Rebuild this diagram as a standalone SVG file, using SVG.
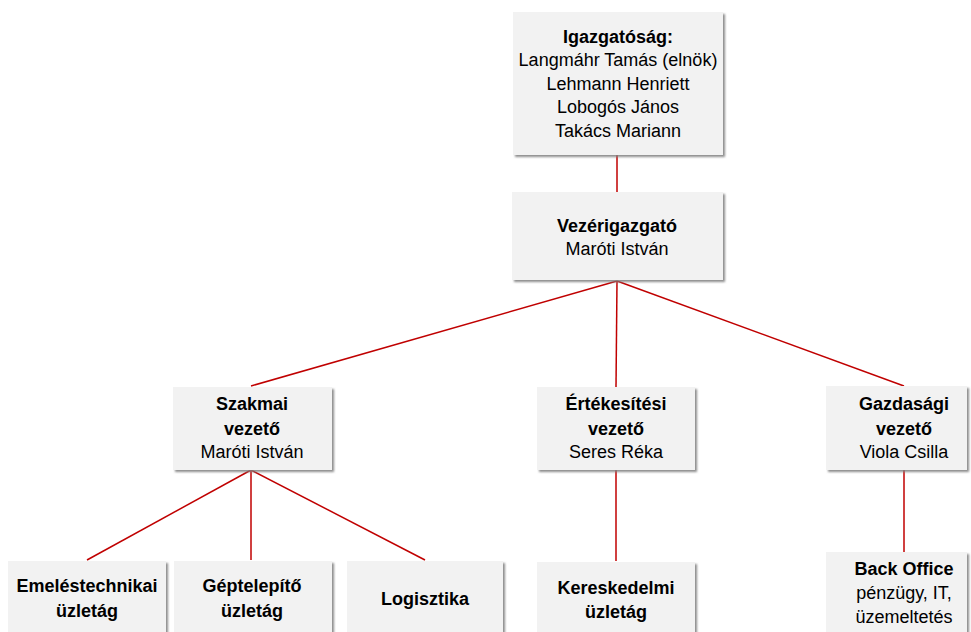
<svg xmlns="http://www.w3.org/2000/svg" width="971" height="632" viewBox="0 0 971 632">
<defs>
<filter id="sh" x="-5%" y="-5%" width="115%" height="115%">
<feDropShadow dx="2" dy="2" stdDeviation="0.8" flood-color="#808080" flood-opacity="0.9"/>
</filter>
<style>
.box{fill:#f2f2f2;filter:url(#sh);}
.t{font-family:"Liberation Sans",Arial,sans-serif;font-size:18px;fill:#000;text-anchor:middle;}
.b{font-weight:bold;}
.c line{stroke:#c00000;stroke-width:1.5;}
</style>
</defs>
<rect width="971" height="632" fill="#fff"/>
<g class="c" id="connectors">
<line x1="617" y1="155" x2="617" y2="192"/>
<line x1="617" y1="281" x2="251" y2="386"/>
<line x1="617" y1="281" x2="616" y2="387"/>
<line x1="617" y1="281" x2="904" y2="386"/>
<line x1="251" y1="470" x2="87" y2="560"/>
<line x1="251" y1="470" x2="251" y2="560"/>
<line x1="251" y1="470" x2="425" y2="560"/>
<line x1="616" y1="470" x2="616" y2="561"/>
<line x1="904" y1="470" x2="904" y2="552"/>
</g>
<g id="igazgatosag">
<rect class="box" x="513" y="12" width="210" height="143"/>
<text class="t b" x="618" y="43">Igazgatóság:</text>
<text class="t" x="618" y="66">Langmáhr Tamás (elnök)</text>
<text class="t" x="618" y="90">Lehmann Henriett</text>
<text class="t" x="618" y="113">Lobogós János</text>
<text class="t" x="618" y="137">Takács Mariann</text>
</g>
<g id="vezerigazgato">
<rect class="box" x="512" y="192" width="211" height="88"/>
<text class="t b" x="617" y="232">Vezérigazgató</text>
<text class="t" x="617" y="255">Maróti István</text>
</g>
<g id="szakmai">
<rect class="box" x="173" y="387" width="159" height="83"/>
<text class="t b" x="252" y="410">Szakmai</text>
<text class="t b" x="252" y="435">vezető</text>
<text class="t" x="252" y="458">Maróti István</text>
</g>
<g id="ertekesitesi">
<rect class="box" x="537" y="387" width="158" height="83"/>
<text class="t b" x="616" y="410">Értékesítési</text>
<text class="t b" x="616" y="435">vezető</text>
<text class="t" x="616" y="458">Seres Réka</text>
</g>
<g id="gazdasagi">
<rect class="box" x="826" y="386" width="141" height="84"/>
<text class="t b" x="904" y="410">Gazdasági</text>
<text class="t b" x="904" y="435">vezető</text>
<text class="t" x="904" y="458">Viola Csilla</text>
</g>
<g id="emelestechnikai">
<rect class="box" x="8" y="561" width="158" height="80"/>
<text class="t b" x="87" y="592">Emeléstechnikai</text>
<text class="t b" x="87" y="617">üzletág</text>
</g>
<g id="geptelepito">
<rect class="box" x="174" y="561" width="158" height="80"/>
<text class="t b" x="252" y="592">Géptelepítő</text>
<text class="t b" x="252" y="617">üzletág</text>
</g>
<g id="logisztika">
<rect class="box" x="347" y="561" width="156" height="80"/>
<text class="t b" x="425" y="605">Logisztika</text>
</g>
<g id="kereskedelmi">
<rect class="box" x="537" y="562" width="158" height="80"/>
<text class="t b" x="616" y="594">Kereskedelmi</text>
<text class="t b" x="616" y="618">üzletág</text>
</g>
<g id="backoffice">
<rect class="box" x="826" y="552" width="141" height="90"/>
<text class="t b" x="904" y="575">Back Office</text>
<text class="t" x="904" y="599">pénzügy, IT,</text>
<text class="t" x="904" y="623">üzemeltetés</text>
</g>
</svg>
